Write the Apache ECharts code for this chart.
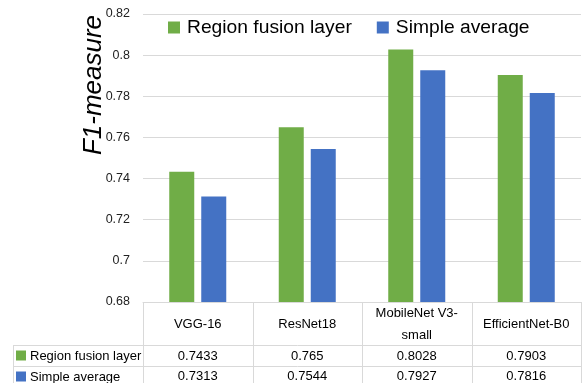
<!DOCTYPE html>
<html>
<head>
<meta charset="utf-8">
<style>
  html, body { margin: 0; padding: 0; background: #fff; }
  #chart { width: 585px; height: 383px; }
</style>
<script src="https://cdn.jsdelivr.net/npm/echarts@6/dist/echarts.min.js"></script>
</head>
<body>
<div id="chart"></div>
<script>
// Models compared and their F1-measure for each fusion strategy
const models = ['VGG-16', 'ResNet18', 'MobileNet V3-\nsmall', 'EfficientNet-B0'];
const regionFusion = [0.7433, 0.765, 0.8028, 0.7903];
const simpleAverage = [0.7313, 0.7544, 0.7927, 0.7816];
const seriesNames = ['Region fusion layer', 'Simple average'];
const yTicks = { min: 0.68, max: 0.82, interval: 0.02 };
const yTitle = 'F1-measure';

const GREEN = '#70AD47';
const BLUE = '#4472C4';
const LINE = '#d9d9d9';
const FONT = '"Liberation Sans", Arial, sans-serif';

const W = 585, H = 383;
const gridLeft = 143, gridRight = 581, gridTop = 14, gridBottom = 302;
const row1 = [345, 366], row2 = [366, 387];
const tableLeft = 13;

const chart = echarts.init(document.getElementById('chart'), null, { renderer: 'canvas' });

// Category axis used for one table row of labels
function tableAxis(labels, margin, show) {
  return {
    type: 'category',
    data: models,
    position: 'bottom',
    axisLine: { show: show, lineStyle: { color: LINE, width: 1 } },
    axisTick: { show: false },
    splitLine: { show: false },
    axisLabel: {
      interval: 0,
      margin: margin,
      verticalAlign: 'middle',
      color: '#000',
      fontFamily: FONT,
      fontSize: 13,
      lineHeight: 22,
      formatter: (v, i) => labels[i]
    }
  };
}

// Table grid lines (bottom of the chart)
const colEdges = [];
const colW = (gridRight - gridLeft) / models.length;
for (let i = 0; i <= models.length; i++) colEdges.push(Math.round(gridLeft + i * colW) + 0.5);

const graphics = [];
function line(x1, y1, x2, y2) {
  graphics.push({ type: 'line', silent: true, z: 10,
    shape: { x1, y1, x2, y2 }, style: { stroke: LINE, lineWidth: 1 } });
}
colEdges.forEach(x => line(x, gridBottom, x, H));
line(tableLeft + 0.5, row1[0], tableLeft + 0.5, H);
line(tableLeft, row1[0] + 0.5, gridRight + 1, row1[0] + 0.5);
line(tableLeft, row2[0] + 0.5, gridRight + 1, row2[0] + 0.5);

// Row headers with legend keys
[[GREEN, seriesNames[0], row1], [BLUE, seriesNames[1], row2]].forEach(([c, name, r]) => {
  const cy = (r[0] + r[1]) / 2;
  graphics.push({ type: 'rect', silent: true, z: 10,
    shape: { x: 16, y: cy - 5, width: 10, height: 10 }, style: { fill: c } });
  graphics.push({ type: 'text', silent: true, z: 10, x: 30, y: cy + 1,
    style: { text: name, fill: '#000', font: '13px ' + FONT, verticalAlign: 'middle', align: 'left' } });
});

// Vertical axis title, placed in the upper part of the axis
graphics.push({ type: 'text', silent: true, z: 10, x: 94, y: 85, rotation: Math.PI / 2,
  style: { text: yTitle, fill: '#000', font: 'italic 26px ' + FONT, align: 'center', verticalAlign: 'middle' } });

const option = {
  animation: false,
  backgroundColor: '#fff',
  grid: {
    left: gridLeft, right: W - gridRight, top: gridTop, bottom: H - gridBottom,
    containLabel: false, outerBoundsMode: 'none'
  },
  legend: {
    data: seriesNames,
    top: 13,
    left: 163,
    itemWidth: 12,
    itemHeight: 12,
    itemGap: 25,
    icon: 'rect',
    textStyle: { fontFamily: FONT, fontSize: 19.25, color: '#000', padding: [0, 0, 0, 2] }
  },
  xAxis: [
    tableAxis(models, 22, true),
    tableAxis(regionFusion.map(String), (row1[0] + row1[1]) / 2 - gridBottom + 1, false),
    tableAxis(simpleAverage.map(String), (row2[0] + row2[1]) / 2 - gridBottom, false)
  ],
  yAxis: {
    type: 'value',
    min: yTicks.min,
    max: yTicks.max,
    interval: yTicks.interval,
    axisLine: { show: false },
    axisTick: { show: false },
    axisLabel: {
      margin: 13,
      color: '#222',
      fontFamily: FONT,
      fontSize: 12.5,
      formatter: v => String(+v.toFixed(2))
    },
    splitLine: { lineStyle: { color: LINE, width: 1 } }
  },
  series: [
    { name: seriesNames[0], type: 'bar', data: regionFusion, barWidth: 25, barGap: '28%',
      itemStyle: { color: GREEN } },
    { name: seriesNames[1], type: 'bar', data: simpleAverage, barWidth: 25, barGap: '28%',
      itemStyle: { color: BLUE } }
  ],
  graphic: graphics
};

chart.setOption(option);
</script>
</body>
</html>
